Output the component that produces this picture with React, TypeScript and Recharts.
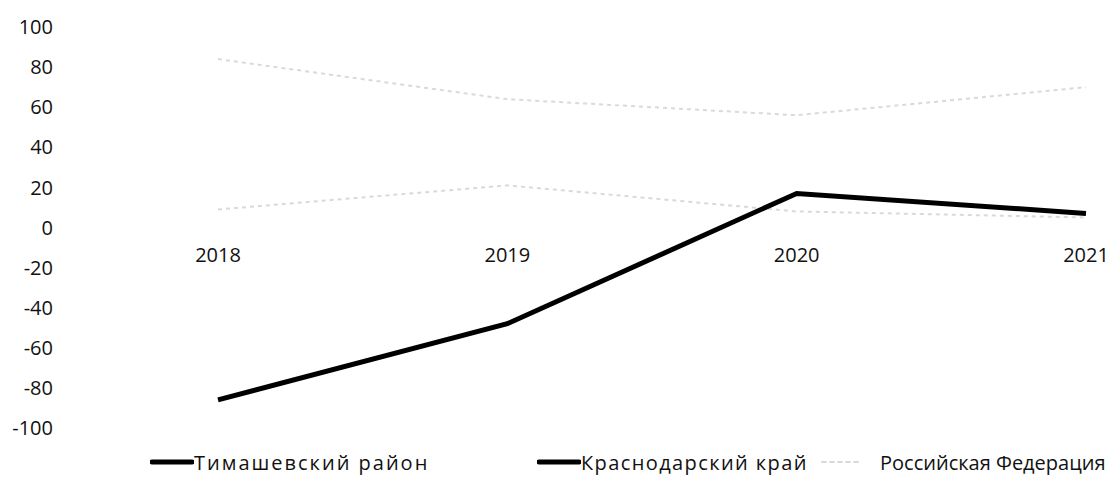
import React from "react";
import {
  LineChart,
  Line,
  XAxis,
  YAxis,
  Legend,
  ReferenceDot,
} from "recharts";

const years = ["2018", "2019", "2020", "2021"];
const timashevsky = [-86, -48, 17, 7];
const krasnodar = [9, 21, 8, 5];
const russia = [84, 64, 56, 70];
const yTicks = [-100, -80, -60, -40, -20, 0, 20, 40, 60, 80, 100];

const seriesNames = ["Тимашевский район", "Краснодарский край", "Российская Федерация"];

const data = years.map((year, i) => ({
  year,
  tim: timashevsky[i],
  kra: krasnodar[i],
  rus: russia[i],
}));

const FONT = "'Open Sans', 'Noto Sans', sans-serif";
const FAINT = "#d9d9d9";

// legend icons: first two solid black, the last a faint dashed stroke
const legendIcons = [
  { color: "#000", dash: undefined as string | undefined, left: 150, spacing: 2, gap: 0 },
  { color: "#000", dash: undefined as string | undefined, left: 537, spacing: 1.4, gap: 0 },
  { color: FAINT, dash: "4 4", left: 820, spacing: 0, gap: 16 },
];

const LegendContent = () => (
  <div style={{ position: "relative", height: 30, width: 1113, fontFamily: FONT, fontSize: 20, color: "#111" }}>
    {seriesNames.map((name, i) => (
      <div
        key={name}
        style={{ position: "absolute", left: legendIcons[i].left, top: 0, height: 30, display: "flex", alignItems: "center" }}
      >
        <svg width={44} height={10} style={{ marginRight: legendIcons[i].gap }}>
          <line
            x1={2}
            y1={5}
            x2={42}
            y2={5}
            stroke={legendIcons[i].color}
            strokeWidth={i === 2 ? 2 : 5}
            strokeLinecap="round"
            strokeDasharray={legendIcons[i].dash}
          />
        </svg>
        <span style={{ whiteSpace: "nowrap", letterSpacing: legendIcons[i].spacing }}>{name}</span>
      </div>
    ))}
  </div>
);

export default function App() {
  return (
    <div style={{ position: "absolute", left: 0, top: 0, background: "#fff" }}>
      <LineChart
        width={1113}
        height={491}
        data={data}
        margin={{ top: 27, right: 10, bottom: 33, left: 0 }}
      >
        <XAxis dataKey="year" hide padding={{ left: 157, right: 17 }} />
        <YAxis
          domain={[-100, 100]}
          ticks={yTicks}
          width={61}
          axisLine={false}
          tickLine={false}
          interval={0}
          tick={{ fill: "#111", fontSize: 20, fontFamily: FONT }}
        />
        <Line dataKey="rus" stroke={FAINT} strokeWidth={2} strokeDasharray="4 4" dot={false} isAnimationActive={false} />
        <Line dataKey="kra" stroke={FAINT} strokeWidth={2} strokeDasharray="4 4" dot={false} isAnimationActive={false} />
        <Line dataKey="tim" stroke="#000" strokeWidth={5} dot={false} isAnimationActive={false} />
        {years.map((y) => (
          <ReferenceDot
            key={y}
            x={y}
            y={0}
            r={0}
            fill="none"
            stroke="none"
            label={{ value: y, position: "bottom", offset: 20, fill: "#111", fontSize: 20, fontFamily: FONT }}
          />
        ))}
        <Legend verticalAlign="bottom" content={<LegendContent />} wrapperStyle={{ bottom: 14, left: 0, width: 1113, height: 30 }} />
      </LineChart>
    </div>
  );
}
